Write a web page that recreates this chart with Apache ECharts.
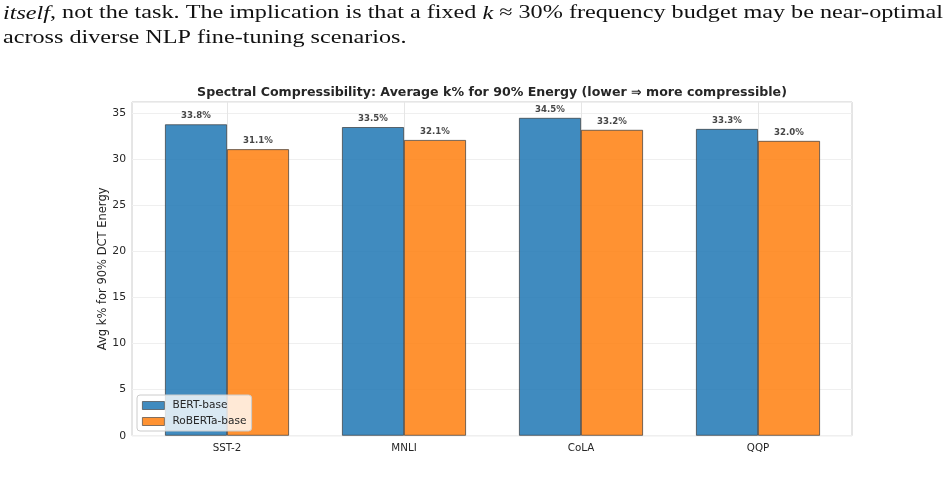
<!DOCTYPE html>
<html>
<head>
<meta charset="utf-8">
<script src="https://cdn.jsdelivr.net/npm/echarts@6/dist/echarts.min.js"></script>
<style>
html,body{margin:0;padding:0;background:#fff;}
#chart{width:949px;height:482px;}
</style>
</head>
<body>
<div id="chart"></div>
<script>
const categories = ['SST-2', 'MNLI', 'CoLA', 'QQP'];
const bertValues = [33.8, 33.5, 34.5, 33.3];
const robertaValues = [31.1, 32.1, 33.2, 32.0];
const seriesNames = ['BERT-base', 'RoBERTa-base'];
const yTicks = [0, 5, 10, 15, 20, 25, 30, 35];
const titleText = 'Spectral Compressibility: Average k% for 90% Energy (lower \u21D2 more compressible)';
const yAxisTitle = 'Avg k% for 90% DCT Energy';
const paraLine1Parts = [['itself', true], [', not the task. The implication is that a fixed ', false], ['k', true], [' \u2248 30% frequency budget may be near-optimal', false]];
const paraLine2 = 'across diverse NLP fine-tuning scenarios.';

const yMax = Math.max(...bertValues, ...robertaValues) * 1.05;
const font = 'DejaVu Sans';
const serif = 'Liberation Serif';
const paraSize = 19;

// measure paragraph width to stretch it like the wider serif of the reference
const cv = document.createElement('canvas').getContext('2d');
let line1W = 0;
paraLine1Parts.forEach(([t, it]) => {
  cv.font = (it ? 'italic ' : '') + paraSize + 'px "' + serif + '"';
  line1W += cv.measureText(t).width;
});
const stretch = 940 / line1W;
const line1Rich = paraLine1Parts.map(([t, it]) => it ? '{i|' + t + '}' : t).join('');

const chart = echarts.init(document.getElementById('chart'), null, {renderer: 'canvas'});

const labelOpt = {
  show: true,
  position: 'top',
  distance: 4,
  fontFamily: font,
  fontSize: 8.6,
  fontWeight: 'bold',
  color: '#262626',
  formatter: p => p.value.toFixed(1) + '%'
};

const option = {
  backgroundColor: '#ffffff',
  animation: false,
  textStyle: {fontFamily: font},
  title: {
    text: titleText,
    left: 492,
    textAlign: 'center',
    top: 86.5,
    textStyle: {fontFamily: font, fontSize: 12.6, fontWeight: 'bold', color: '#262626'},
    padding: 0
  },
  graphic: [
    {
      type: 'text', x: 3, y: 4, scaleX: stretch,
      style: {
        text: line1Rich,
        font: paraSize + 'px "' + serif + '"',
        fill: '#111',
        rich: {i: {fontStyle: 'italic', fontFamily: serif, fontSize: paraSize}}
      }
    },
    {
      type: 'text', x: 3, y: 29, scaleX: stretch,
      style: {text: paraLine2, font: paraSize + 'px "' + serif + '"', fill: '#111'}
    }
  ],
  legend: {
    data: seriesNames,
    orient: 'vertical',
    left: 137,
    top: 395,
    icon: 'rect',
    itemWidth: 22,
    itemHeight: 8,
    itemGap: 5,
    padding: [5, 5, 4, 5],
    backgroundColor: 'rgba(255,255,255,0.8)',
    borderColor: '#cccccc',
    borderWidth: 1,
    borderRadius: 3,
    itemStyle: {borderWidth: 0.8, borderColor: '#444444'},
    textStyle: {fontFamily: font, fontSize: 10.6, color: '#262626', padding: [0, 0, 0, 3]}
  },
  grid: [
    {left: 138.5, width: 708, top: 102, bottom: 46.3, show: false},
    {left: 132, right: 97, top: 102, bottom: 46.3, show: true, borderColor: '#cccccc', borderWidth: 1, backgroundColor: 'transparent'},
    {left: 227.3, right: 190.7, top: 102, bottom: 46.3, show: false}
  ],
  xAxis: [
    {
      type: 'category', gridIndex: 0, data: categories,
      axisLine: {show: false}, axisTick: {show: false}, splitLine: {show: false},
      axisLabel: {fontFamily: font, fontSize: 10.3, color: '#262626', margin: 8}
    },
    {
      type: 'value', gridIndex: 1, min: 0, max: 1, show: false, splitLine: {show: false}
    },
    {
      type: 'category', gridIndex: 2, data: categories, boundaryGap: false,
      axisLine: {show: false}, axisTick: {show: false}, axisLabel: {show: false},
      splitLine: {show: true, lineStyle: {color: '#e6e6e6', width: 1}}
    }
  ],
  yAxis: [
    {type: 'value', gridIndex: 0, min: 0, max: yMax, show: false, splitLine: {show: false}},
    {
      type: 'value', gridIndex: 1, min: 0, max: yMax, interval: 5,
      name: yAxisTitle, nameLocation: 'middle', nameGap: 23, nameMoveOverlap: false,
      nameTextStyle: {fontFamily: font, fontSize: 11.5, color: '#262626'},
      axisLine: {show: false}, axisTick: {show: false},
      axisLabel: {fontFamily: font, fontSize: 10.8, color: '#262626', margin: 6, showMaxLabel: false,
        formatter: v => (yTicks.indexOf(v) >= 0 ? String(v) : '')},
      splitLine: {show: true, lineStyle: {color: '#efefef', width: 1}}
    },
    {type: 'value', gridIndex: 2, min: 0, max: yMax, show: false, splitLine: {show: false}}
  ],
  series: [
    {
      name: seriesNames[0], type: 'bar', xAxisIndex: 0, yAxisIndex: 0,
      data: bertValues, barWidth: 62, barGap: '0%', z: 3,
      itemStyle: {color: '#1f77b4', opacity: 0.85, borderColor: '#333333', borderWidth: 0.8},
      label: labelOpt
    },
    {
      name: seriesNames[1], type: 'bar', xAxisIndex: 0, yAxisIndex: 0,
      data: robertaValues, barWidth: 62, barGap: '0%', z: 3,
      itemStyle: {color: '#ff7f0e', opacity: 0.85, borderColor: '#333333', borderWidth: 0.8},
      label: labelOpt
    }
  ]
};
chart.setOption(option);
</script>
</body>
</html>
